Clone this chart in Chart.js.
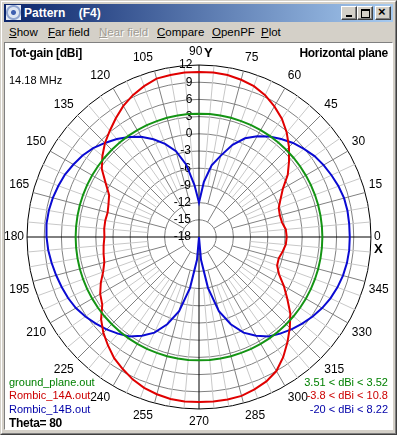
<!DOCTYPE html>
<html>
<head>
<meta charset="utf-8">
<script src="https://cdn.jsdelivr.net/npm/chart.js@4.4.0/dist/chart.umd.min.js"></script>
<style>
  html, body { margin: 0; padding: 0; }
  body { width: 397px; height: 435px; overflow: hidden; position: relative; background: #d4d0c8; font-family: "Liberation Sans", Arial, sans-serif; }
  .abs { position: absolute; white-space: nowrap; }
  #frame { left: 0; top: 0; width: 397px; height: 435px; box-sizing: border-box; border: 1px solid; border-color: #d4d0c8 #404040 #404040 #d4d0c8; }
  #frame2 { left: 0; top: 0; right: 0; bottom: 0; border: 1px solid; border-color: #fff #808080 #808080 #fff; }
  #titlebar { left: 4px; top: 4px; width: 389px; height: 18px; background: linear-gradient(to right, #0a246a, #a6caf0); }
  #title { left: 24px; top: 4px; line-height: 18px; font-size: 12px; font-weight: bold; color: #fff; }
  #icon { left: 6px; top: 5px; width: 15px; height: 15px; background: radial-gradient(circle at 50% 50%, #4060b0 0 2px, #dfe6f2 3px 5px, #8fa4cf 6px 7px, #e6ecf6 8px); }
  .btn { top: 6px; width: 14px; height: 12px; background: #d4d0c8; border: 1px solid; border-color: #fff #404040 #404040 #fff; box-shadow: inset -1px -1px #808080; }
  .menu { top: 25px; font-size: 11.5px; line-height: 14px; color: #000; }
  #panel { left: 4px; top: 42px; width: 387px; height: 386px; background: #fff; border: 1px solid; border-color: #808080 #fff #fff #808080; }
  #wrap { position: absolute; }
  .lbl { font-size: 11px; line-height: 14px; }
  .bold { font-size: 12px; font-weight: bold; line-height: 14px; letter-spacing: -0.3px; color: #000; }
</style>
</head>
<body>
<div class="abs" id="frame"><div class="abs" id="frame2"></div></div>
<div class="abs" id="titlebar"></div>
<div class="abs" id="icon"></div>
<div class="abs" id="title">Pattern&nbsp;&nbsp;&nbsp; (F4)</div>
<div class="abs btn" style="left:341px"><div class="abs" style="left:4px;top:8px;width:6px;height:2px;background:#000"></div></div>
<div class="abs btn" style="left:357px"><div class="abs" style="left:3px;top:2px;width:7px;height:6px;border:1px solid #000;border-top-width:2px"></div></div>
<div class="abs btn" style="left:375px"><div class="abs" style="left:2px;top:-2px;font-size:13px;font-weight:bold;line-height:14px">&#215;</div></div>

<div class="abs menu" style="left:9px"><u>S</u>how</div>
<div class="abs menu" style="left:48px"><u>F</u>ar field</div>
<div class="abs menu" style="left:99px;color:#a09c94;text-shadow:1px 1px #fff"><u>N</u>ear field</div>
<div class="abs menu" style="left:157px"><u>C</u>ompare</div>
<div class="abs menu" style="left:212px"><u>O</u>penPF</div>
<div class="abs menu" style="left:261px"><u>P</u>lot</div>

<div class="abs" id="panel"></div>
<div id="wrap"><canvas id="polar"></canvas></div>

<div class="abs bold" style="left:9px;top:46px">Tot-gain [dBi]</div>
<div class="abs bold" style="right:9px;top:46px">Horizontal plane</div>
<div class="abs lbl" style="left:9px;top:73px">14.18 MHz</div>
<div class="abs" style="left:204px;top:46px;font-size:13px;font-weight:bold;line-height:14px">Y</div>
<div class="abs" style="left:374px;top:242px;font-size:13px;font-weight:bold;line-height:14px">X</div>

<div class="abs lbl" style="left:9px;top:375px;color:#008000">ground_plane.out</div>
<div class="abs lbl" style="left:9px;top:388px;color:#cc0000">Rombic_14A.out</div>
<div class="abs lbl" style="left:9px;top:402px;color:#0000a8">Rombic_14B.out</div>
<div class="abs bold" style="left:9px;top:416px">Theta= 80</div>
<div class="abs lbl" style="right:9px;top:375px;color:#008000">3.51 &lt; dBi &lt; 3.52</div>
<div class="abs lbl" style="right:9px;top:388px;color:#cc0000">-3.8 &lt; dBi &lt; 10.8</div>
<div class="abs lbl" style="right:9px;top:402px;color:#0000a8">-20 &lt; dBi &lt; 8.22</div>

<script>
// azimuth in degrees, counter-clockwise from the X axis
const ANGLES = [0, 5, 10, 15, 20, 25, 30, 35, 40, 45, 50, 55, 60, 65, 70, 75, 80, 85,
  90, 95, 100, 105, 110, 115, 120, 125, 130, 135, 140, 145, 150, 155, 160, 165, 170, 175,
  180, 185, 190, 195, 200, 205, 210, 215, 220, 225, 230, 235, 240, 245, 250, 255, 260, 265,
  270, 275, 280, 285, 290, 295, 300, 305, 310, 315, 320, 325, 330, 335, 340, 345, 350, 355];

// gain in dBi at each angle
const GROUND_PLANE = [3.52, 3.52, 3.52, 3.52, 3.52, 3.52, 3.51, 3.52, 3.52, 3.52, 3.52, 3.52, 3.52, 3.52, 3.52, 3.52, 3.52, 3.52,
  3.52, 3.52, 3.52, 3.52, 3.52, 3.52, 3.51, 3.52, 3.52, 3.52, 3.52, 3.52, 3.52, 3.52, 3.52, 3.52, 3.52, 3.52,
  3.52, 3.52, 3.52, 3.52, 3.52, 3.52, 3.51, 3.52, 3.52, 3.52, 3.52, 3.52, 3.52, 3.52, 3.52, 3.52, 3.52, 3.52,
  3.52, 3.52, 3.52, 3.52, 3.52, 3.52, 3.51, 3.52, 3.52, 3.52, 3.52, 3.52, 3.52, 3.52, 3.52, 3.52, 3.52, 3.52];

const ROMBIC_14A = [-2.7, -2.8, -3.3, -3.4, -3.2, -2.3, -1.1, 0.9, 2.5, 4.2, 5.8, 7.2, 8.3, 9.3, 10.0, 10.4, 10.7, 10.8,
  10.8, 10.8, 10.7, 10.6, 10.0, 9.3, 8.4, 7.3, 6.2, 5.2, 4.0, 2.7, 0.8, -0.7, -1.2, -1.5, -1.4, -1.4,
  -1.5, -1.3, -1.1, -0.9, -0.2, 0.9, 1.9, 2.6, 4.3, 5.6, 6.7, 7.8, 8.6, 9.4, 10.0, 10.4, 10.7, 10.8,
  10.8, 10.8, 10.8, 10.7, 10.3, 9.8, 9.0, 7.6, 6.0, 4.4, 2.8, 0.8, -0.9, -2.6, -3.5, -3.6, -3.2, -2.8];

const ROMBIC_14B = [8.3, 8.3, 8.3, 8.2, 7.9, 7.5, 7.1, 6.6, 5.9, 5.2, 4.3, 3.4, 2.3, 1.0, -0.9, -3.3, -5.3, -8.4,
  -12.0, -8.9, -5.2, -2.5, -0.7, 0.8, 2.2, 3.3, 4.3, 5.2, 6.1, 6.8, 7.3, 7.8, 8.1, 8.4, 8.6, 8.7,
  8.6, 8.4, 8.1, 7.8, 7.5, 7.2, 6.8, 6.2, 5.5, 4.8, 4.0, 3.2, 1.9, 0.4, -1.8, -4.6, -9.0, -14.0,
  -18.0, -14.0, -9.0, -4.6, -1.8, 0.4, 1.9, 3.2, 4.0, 4.8, 5.5, 6.2, 6.8, 7.3, 7.7, 8.0, 8.2, 8.3];

const GAIN_TICKS = [-18, -15, -12, -9, -6, -3, 0, 3, 6, 9, 12];

// radar goes clockwise from the top: start at 90 and walk down through 0
const n = ANGLES.length;
const chartIdx = ANGLES.map((a, i) => (ANGLES.indexOf(90) - i + n) % n);
const chartAngles = chartIdx.map(k => ANGLES[k]);
const pick = arr => chartIdx.map(k => arr[k]);

const S = 390;
const wrap = document.getElementById('wrap');
wrap.style.left = '2px';
wrap.style.top = '42px';
wrap.style.width = S + 'px';
wrap.style.height = S + 'px';

// spokes: axes run to the centre, the rest start further out
function lineStart(ctx) {
  const a = chartAngles[ctx.index];
  const r = ctx.chart.scales.r;
  if (a % 90 === 0) return [];
  let from = -9;
  if (a % 30 === 0) from = -15;
  else if (a % 15 === 0) from = -12;
  const d = r.getDistanceFromCenterForValue(from);
  return [0, d, 400, 0];
}

new Chart(document.getElementById('polar'), {
  type: 'radar',
  data: {
    labels: chartAngles.map(String),
    datasets: [
      { label: 'ground_plane.out', data: pick(GROUND_PLANE), borderColor: '#149414' },
      { label: 'Rombic_14A.out', data: pick(ROMBIC_14A), borderColor: '#e00000' },
      { label: 'Rombic_14B.out', data: pick(ROMBIC_14B), borderColor: '#0a0ad2' }
    ]
  },
  options: {
    animation: false,
    responsive: true,
    maintainAspectRatio: false,
    plugins: { legend: { display: false }, tooltip: { enabled: false } },
    elements: {
      point: { radius: 0, hoverRadius: 0 },
      line: { borderWidth: 2, tension: 0, fill: false }
    },
    scales: {
      r: {
        min: GAIN_TICKS[0],
        max: GAIN_TICKS[GAIN_TICKS.length - 1],
        startAngle: 0,
        ticks: {
          stepSize: 3,
          color: '#000',
          showLabelBackdrop: false,
          font: { family: 'Liberation Sans', size: 12 },
          callback: v => '\u2007'.repeat(3 - String(v).length) + v + ' '.repeat(10)
        },
        grid: {
          circular: true,
          color: ctx => ctx.index === GAIN_TICKS.length - 1 ? '#000' : '#808080',
          lineWidth: 1
        },
        angleLines: {
          color: ctx => {
            const a = chartAngles[ctx.index];
            if (a % 90 === 0) return '#000';
            if (a % 15 === 0) return '#808080';
            return '#c8c8c8';
          },
          lineWidth: 1,
          borderDash: lineStart
        },
        pointLabels: {
          color: '#000',
          // labels sit close to the rim, a little more room top and bottom
          padding: ctx => -5 + 3 * Math.abs(Math.sin(chartAngles[ctx.index] * Math.PI / 180)),
          font: { family: 'Liberation Sans', size: 12 },
          callback: (label) => {
            const a = Number(label);
            if (a % 15 !== 0) return '';
            return a === 90 ? '90  ' : label;
          }
        }
      }
    }
  }
});
</script>
</body>
</html>
